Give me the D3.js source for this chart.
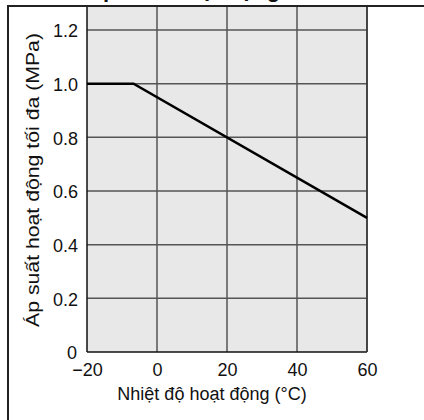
<!DOCTYPE html>
<html>
<head>
<meta charset="utf-8">
<script src="https://cdn.jsdelivr.net/npm/d3@7"></script>
<style>
  html, body { margin: 0; padding: 0; background: #fff; }
  svg { display: block; font-family: "Liberation Sans", Arial, sans-serif; }
</style>
</head>
<body>
<svg id="chart" width="424" height="420"></svg>
<script>
// temperature (°C) vs max operating pressure (MPa)
const temps = [-20, -6.7, 60];
const pressures = [1.0, 1.0, 0.5];
const xTicks = [-20, 0, 20, 40, 60];
const yTicks = [0, 0.2, 0.4, 0.6, 0.8, 1.0, 1.2];
const xTitle = 'Nhiệt độ hoạt động (°C)';
const yTitle = 'Áp suất hoạt động tối đa (MPa)';
const chartTitle = 'Áp suất hoạt động';

const svg = d3.select('#chart');
const W = 424, H = 420;
const plot = { left: 87, right: 367, top: 6, bottom: 352 };

const x = d3.scaleLinear().domain([-20, 60]).range([plot.left, plot.right]);
const y = d3.scaleLinear().domain([0, 1.2]).range([plot.bottom, 30]);

// title, mostly cut off by the top edge (as in the source image)
svg.append('text')
  .attr('x', 87)
  .attr('y', -3)
  .attr('font-size', 22)
  .attr('font-weight', 'bold')
  .attr('fill', '#111')
  .text(chartTitle);

// plot background
svg.append('rect')
  .attr('x', plot.left)
  .attr('y', plot.top)
  .attr('width', plot.right - plot.left)
  .attr('height', plot.bottom - plot.top)
  .attr('fill', '#e8e8e8');

// grid
const grid = svg.append('g').attr('stroke', '#555').attr('stroke-width', 1.5);
grid.selectAll('line.v')
  .data(xTicks.filter(d => d > -20))
  .join('line')
  .attr('class', 'v')
  .attr('x1', d => x(d)).attr('x2', d => x(d))
  .attr('y1', plot.top).attr('y2', plot.bottom);
grid.selectAll('line.h')
  .data(yTicks.filter(d => d > 0))
  .join('line')
  .attr('class', 'h')
  .attr('x1', plot.left).attr('x2', plot.right)
  .attr('y1', d => y(d)).attr('y2', d => y(d));

// axes
const fmtY = d => d === 0 ? '0' : d.toFixed(1);
const yAxis = svg.append('g')
  .attr('transform', `translate(${plot.left},0)`)
  .call(d3.axisLeft(y).tickValues(yTicks).tickFormat(fmtY).tickSize(0).tickPadding(9));
yAxis.select('.domain').remove();
yAxis.selectAll('text')
  .attr('font-size', 18)
  .attr('font-family', null)
  .attr('fill', '#111')
  .attr('dy', '0.38em');
yAxis.selectAll('.tick').filter(d => d === 0).select('text').attr('x', -10);

const xAxis = svg.append('g')
  .attr('transform', `translate(0,${plot.bottom})`)
  .call(d3.axisBottom(x).tickValues(xTicks).tickSize(0).tickPadding(11));
xAxis.select('.domain').remove();
xAxis.selectAll('text')
  .attr('font-size', 18)
  .attr('font-family', null)
  .attr('fill', '#111');

// plot border lines
svg.append('line')
  .attr('x1', plot.left).attr('x2', plot.left)
  .attr('y1', plot.top).attr('y2', plot.bottom)
  .attr('stroke', '#111').attr('stroke-width', 1.5);
svg.append('line')
  .attr('x1', plot.left).attr('x2', plot.right)
  .attr('y1', plot.bottom).attr('y2', plot.bottom)
  .attr('stroke', '#111').attr('stroke-width', 1.5);
svg.append('line')
  .attr('x1', plot.right).attr('x2', plot.right)
  .attr('y1', plot.top).attr('y2', plot.bottom)
  .attr('stroke', '#333').attr('stroke-width', 1.5);

// outer frame (left + top)
svg.append('path')
  .attr('d', `M8,${H} V6 H${W}`)
  .attr('fill', 'none')
  .attr('stroke', '#222')
  .attr('stroke-width', 2);

// data line
const line = d3.line().x((d, i) => x(temps[i])).y(d => y(d));
svg.append('path')
  .datum(pressures)
  .attr('d', line)
  .attr('fill', 'none')
  .attr('stroke', '#000')
  .attr('stroke-width', 2.5);

// axis titles
svg.append('text')
  .attr('x', 212)
  .attr('y', 400)
  .attr('text-anchor', 'middle')
  .attr('font-size', 18)
  .attr('fill', '#111')
  .text(xTitle);

svg.append('text')
  .attr('transform', 'translate(39,180) rotate(-90)')
  .attr('text-anchor', 'middle')
  .attr('font-size', 18)
  .attr('textLength', 294)
  .attr('lengthAdjust', 'spacingAndGlyphs')
  .attr('fill', '#111')
  .text(yTitle);
</script>
</body>
</html>
